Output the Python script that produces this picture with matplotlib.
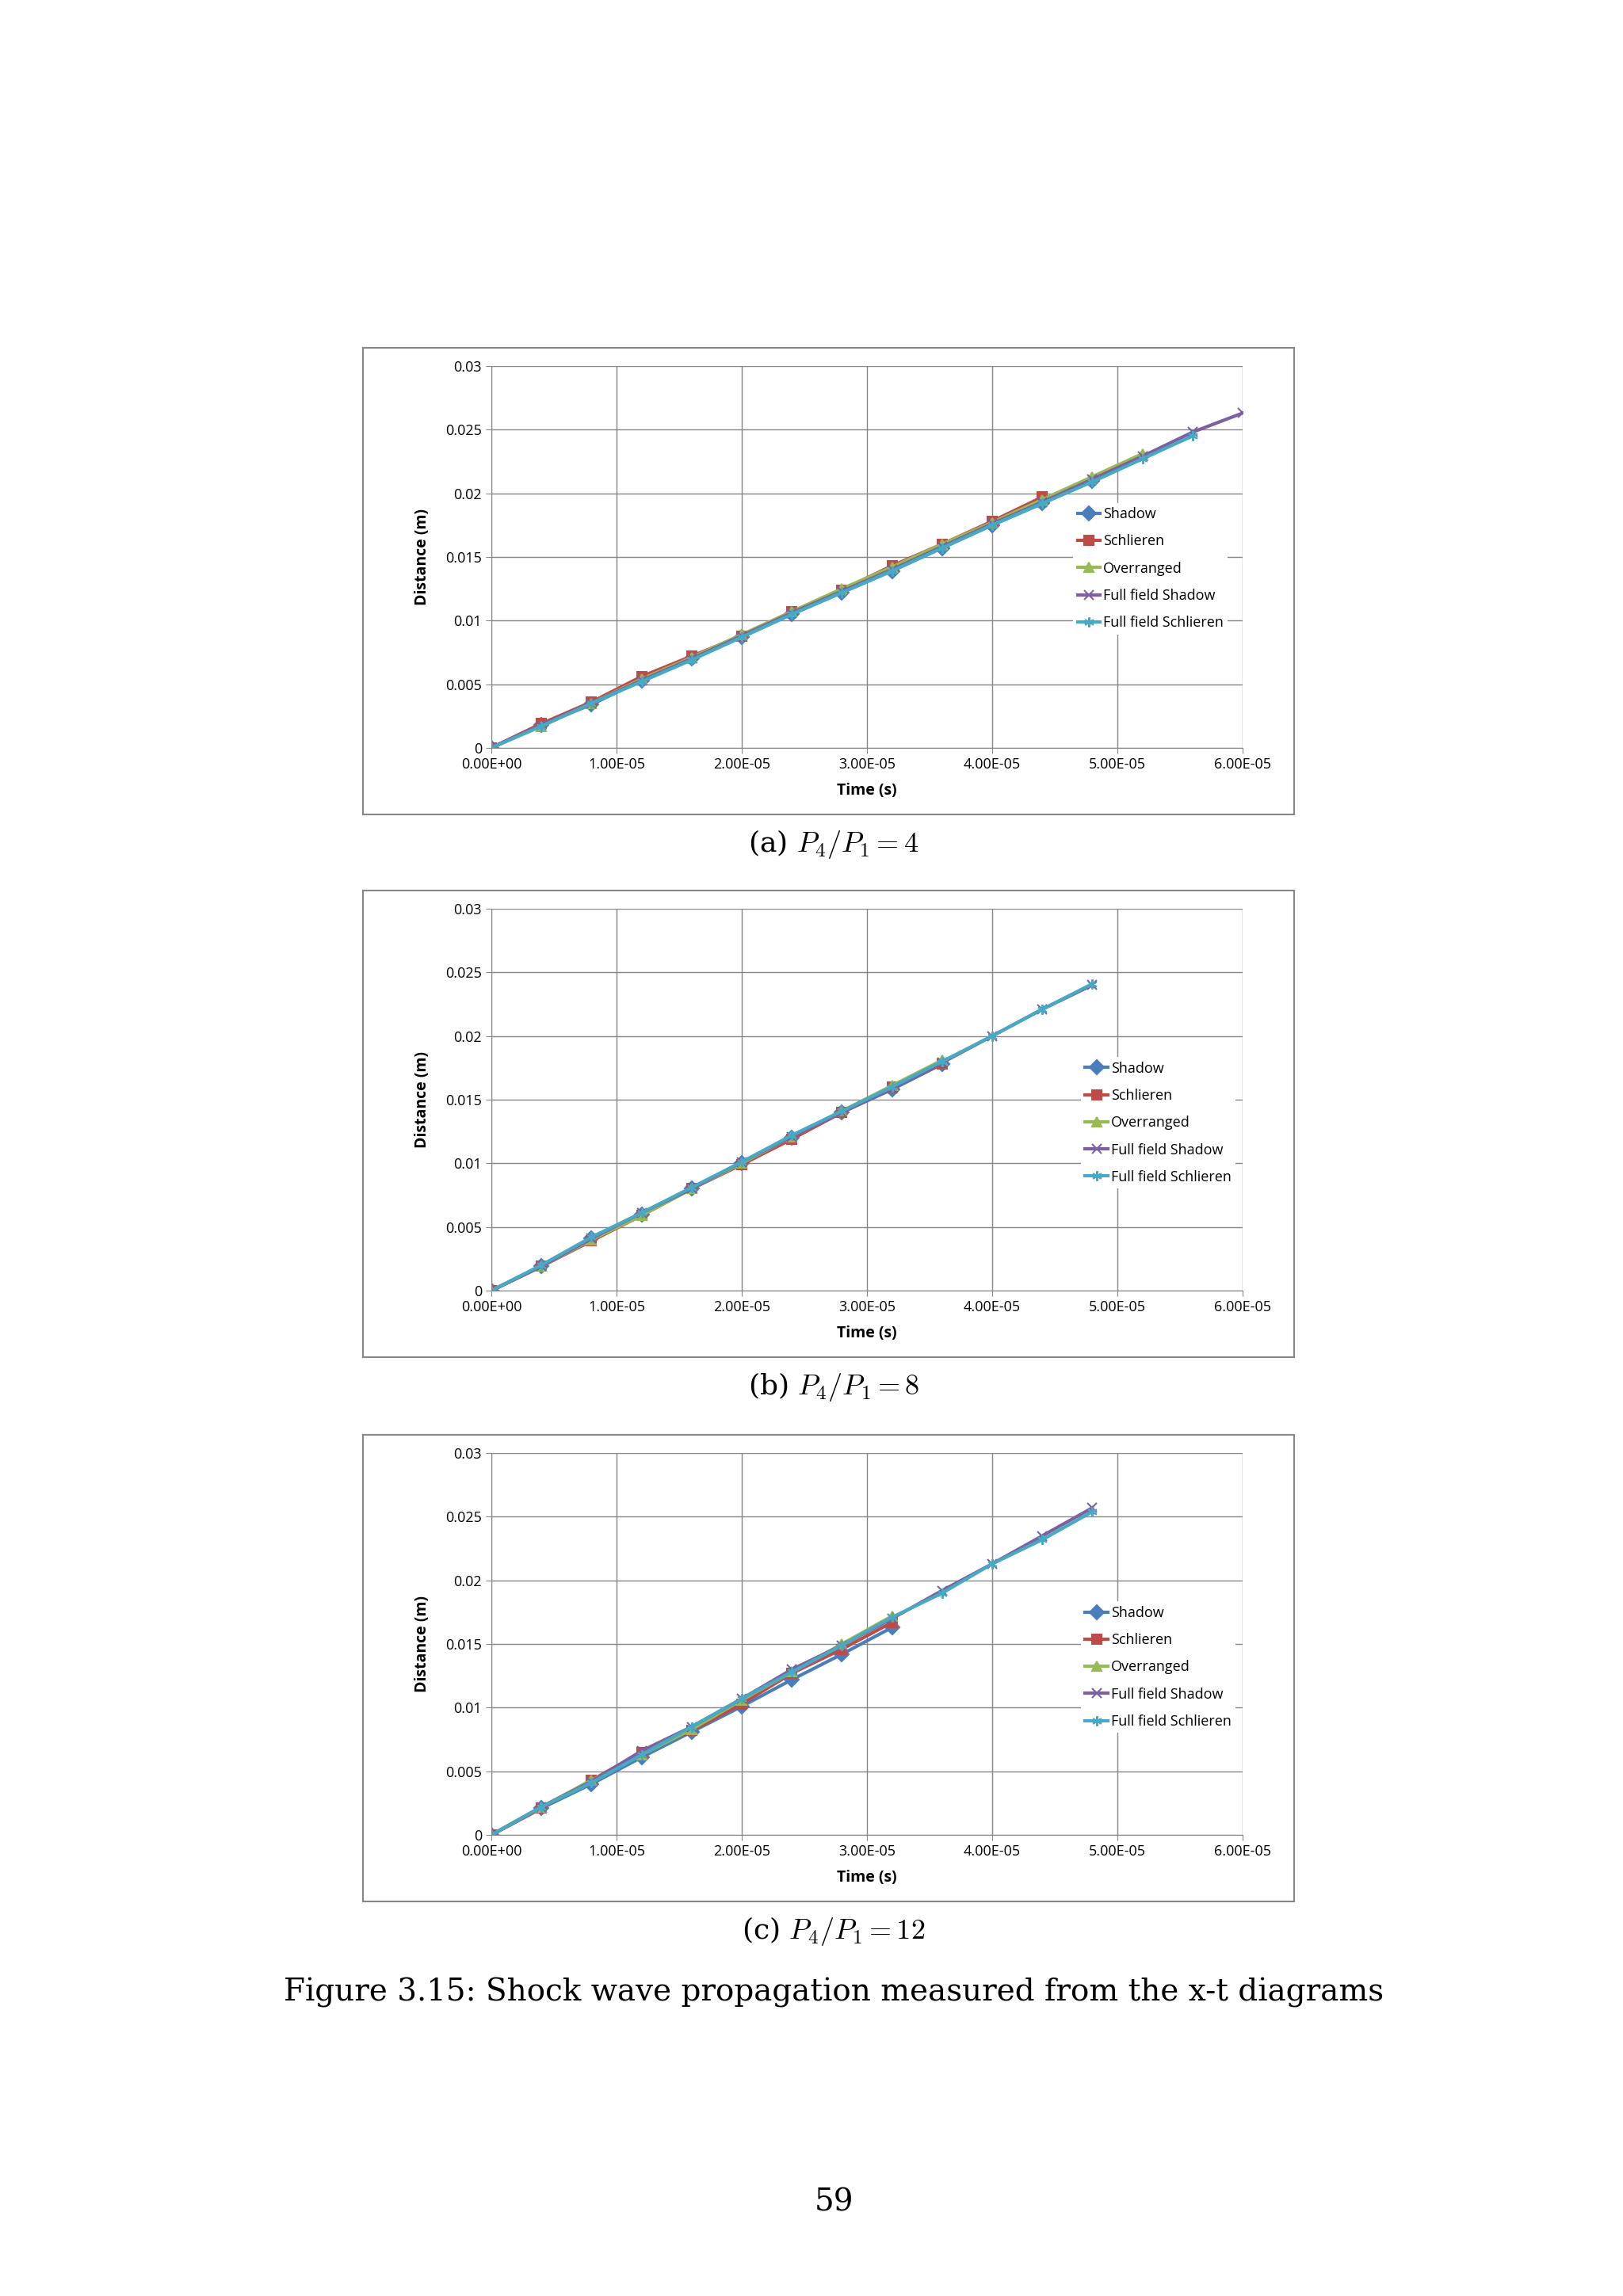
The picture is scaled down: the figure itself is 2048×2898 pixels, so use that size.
import matplotlib
matplotlib.use("Agg")
import matplotlib.pyplot as plt
from matplotlib.patches import Rectangle
import numpy as np

plt.rcParams['mathtext.fontset'] = 'cm'

series_names = ['Shadow', 'Schlieren', 'Overranged', 'Full field Shadow', 'Full field Schlieren']
colors = ['#4A7EBB', '#BE4B48', '#98B954', '#7D60A0', '#46AAC5']
markers = ['D', 's', '^', 'x', (6, 2, 0)]

dt = 4e-6

# panel (a) P4/P1 = 4
a_shadow = [0, 0.0018, 0.0034, 0.0053, 0.0070, 0.0087, 0.0105, 0.0122, 0.0139, 0.0157, 0.0175, 0.0192, 0.0210]
a_schlieren = [0, 0.0019, 0.0036, 0.0056, 0.0072, 0.0088, 0.0107, 0.0124, 0.0143, 0.0160, 0.0178, 0.0197]
a_overranged = [0, 0.0017, 0.0035, 0.0054, 0.0071, 0.0089, 0.0107, 0.0125, 0.0142, 0.0160, 0.0177, 0.0195, 0.0213, 0.0231]
a_ffshadow = [0, 0.0018, 0.0035, 0.0053, 0.0070, 0.0088, 0.0106, 0.0123, 0.0140, 0.0158, 0.0176, 0.0193, 0.0211, 0.0229, 0.0248, 0.0263]
a_ffschlieren = [0, 0.0017, 0.0035, 0.0052, 0.0069, 0.0087, 0.0105, 0.0122, 0.0139, 0.0157, 0.0175, 0.0192, 0.0209, 0.0227, 0.0245]

# panel (b) P4/P1 = 8
b_shadow = [0, 0.0019, 0.0041, 0.0060, 0.0080, 0.0100, 0.0120, 0.0140, 0.0158, 0.0178]
b_schlieren = [0, 0.0019, 0.0039, 0.0059, 0.0080, 0.0099, 0.0119, 0.0140, 0.0160, 0.0178]
b_overranged = [0, 0.0019, 0.0040, 0.0059, 0.0080, 0.0100, 0.0121, 0.0141, 0.0161, 0.0181]
b_ffshadow = [0, 0.0019, 0.0041, 0.0061, 0.0080, 0.0101, 0.0121, 0.0140, 0.0159, 0.0179, 0.0200, 0.0221, 0.0240]
b_ffschlieren = [0, 0.0020, 0.0042, 0.0061, 0.0081, 0.0101, 0.0122, 0.0141, 0.0160, 0.0180, 0.0200, 0.0221, 0.0241]

# panel (c) P4/P1 = 12
c_shadow = [0, 0.0021, 0.0040, 0.0061, 0.0081, 0.0101, 0.0122, 0.0142, 0.0163]
c_schlieren = [0, 0.0021, 0.0043, 0.0065, 0.0082, 0.0103, 0.0127, 0.0146, 0.0167]
c_overranged = [0, 0.0022, 0.0043, 0.0063, 0.0083, 0.0106, 0.0128, 0.0150, 0.0172]
c_ffshadow = [0, 0.0022, 0.0042, 0.0066, 0.0085, 0.0107, 0.0130, 0.0149, 0.0170, 0.0192, 0.0213, 0.0235, 0.0257]
c_ffschlieren = [0, 0.0022, 0.0041, 0.0063, 0.0085, 0.0107, 0.0128, 0.0149, 0.0171, 0.0190, 0.0213, 0.0232, 0.0254]

panels = [
    ([a_shadow, a_schlieren, a_overranged, a_ffshadow, a_ffschlieren], 0.6743, 0.765, 0.66, r'(a) $P_4/P_1 = 4$', 0.6325),
    ([b_shadow, b_schlieren, b_overranged, b_ffshadow, b_ffschlieren], 0.4379, 0.775, 0.63, r'(b) $P_4/P_1 = 8$', 0.3961),
    ([c_shadow, c_schlieren, c_overranged, c_ffshadow, c_ffschlieren], 0.2008, 0.775, 0.63, r'(c) $P_4/P_1 = 12$', 0.1590),
]

xticks = np.arange(0, 6.01e-5, 1e-5)
xticklabels = ['0.00E+00', '1.00E-05', '2.00E-05', '3.00E-05', '4.00E-05', '5.00E-05', '6.00E-05']
yticks = [0, 0.005, 0.01, 0.015, 0.02, 0.025, 0.03]
yticklabels = ['0', '0.005', '0.01', '0.015', '0.02', '0.025', '0.03']

fig = plt.figure(figsize=(20.48, 28.98), dpi=100)
font = 'Open Sans'

for data, bottom, lx, ly, cap, capy in panels:
    # outer chart frame
    fig.patches.append(Rectangle((0.2236, bottom - 0.029), 0.5738, 0.2032, transform=fig.transFigure,
                                 fill=False, edgecolor='#868686', linewidth=1.5))
    ax = fig.add_axes([0.3027, bottom, 0.4629, 0.1663])
    for vals, name, c, m in zip(data, series_names, colors, markers):
        t = np.arange(len(vals)) * dt
        ax.plot(t, vals, color=c, marker=m, markersize=9, linewidth=3, label=name, markeredgewidth=1.5)
    ax.set_xlim(0, 6e-5)
    ax.set_ylim(0, 0.03)
    ax.set_xticks(xticks)
    ax.set_xticklabels(xticklabels, fontsize=13, family=font)
    ax.set_yticks(yticks)
    ax.set_yticklabels(yticklabels, fontsize=13, family=font)
    ax.grid(True, color='#868686', linewidth=1)
    ax.set_axisbelow(True)
    for s in ax.spines.values():
        s.set_visible(False)
    ax.spines['left'].set_visible(True)
    ax.spines['left'].set_color('#868686')
    ax.spines['bottom'].set_visible(True)
    ax.spines['bottom'].set_color('#868686')
    ax.tick_params(length=5, color='#868686')
    ax.set_xlabel('Time (s)', fontsize=14, fontweight='bold', family=font, labelpad=10)
    ax.set_ylabel('Distance (m)', fontsize=14, fontweight='bold', family=font, labelpad=14)
    leg = ax.legend(loc='upper left', bbox_to_anchor=(lx, ly), frameon=True, fancybox=False,
                    edgecolor='none', facecolor='white', framealpha=1, handlelength=1.6,
                    handletextpad=0.2, labelspacing=0.9, borderpad=0.3,
                    prop={'family': font, 'size': 13})
    fig.text(0.5137, capy, cap, fontsize=26, family='DejaVu Serif', ha='center', va='center')

fig.text(0.5137, 0.1322, 'Figure 3.15: Shock wave propagation measured from the x-t diagrams',
         fontsize=28, family='DejaVu Serif', ha='center', va='center')
fig.text(0.5137, 0.0407, '59', fontsize=28, family='DejaVu Serif', ha='center', va='center')

fig.savefig('out.png', dpi=100, facecolor='white')
